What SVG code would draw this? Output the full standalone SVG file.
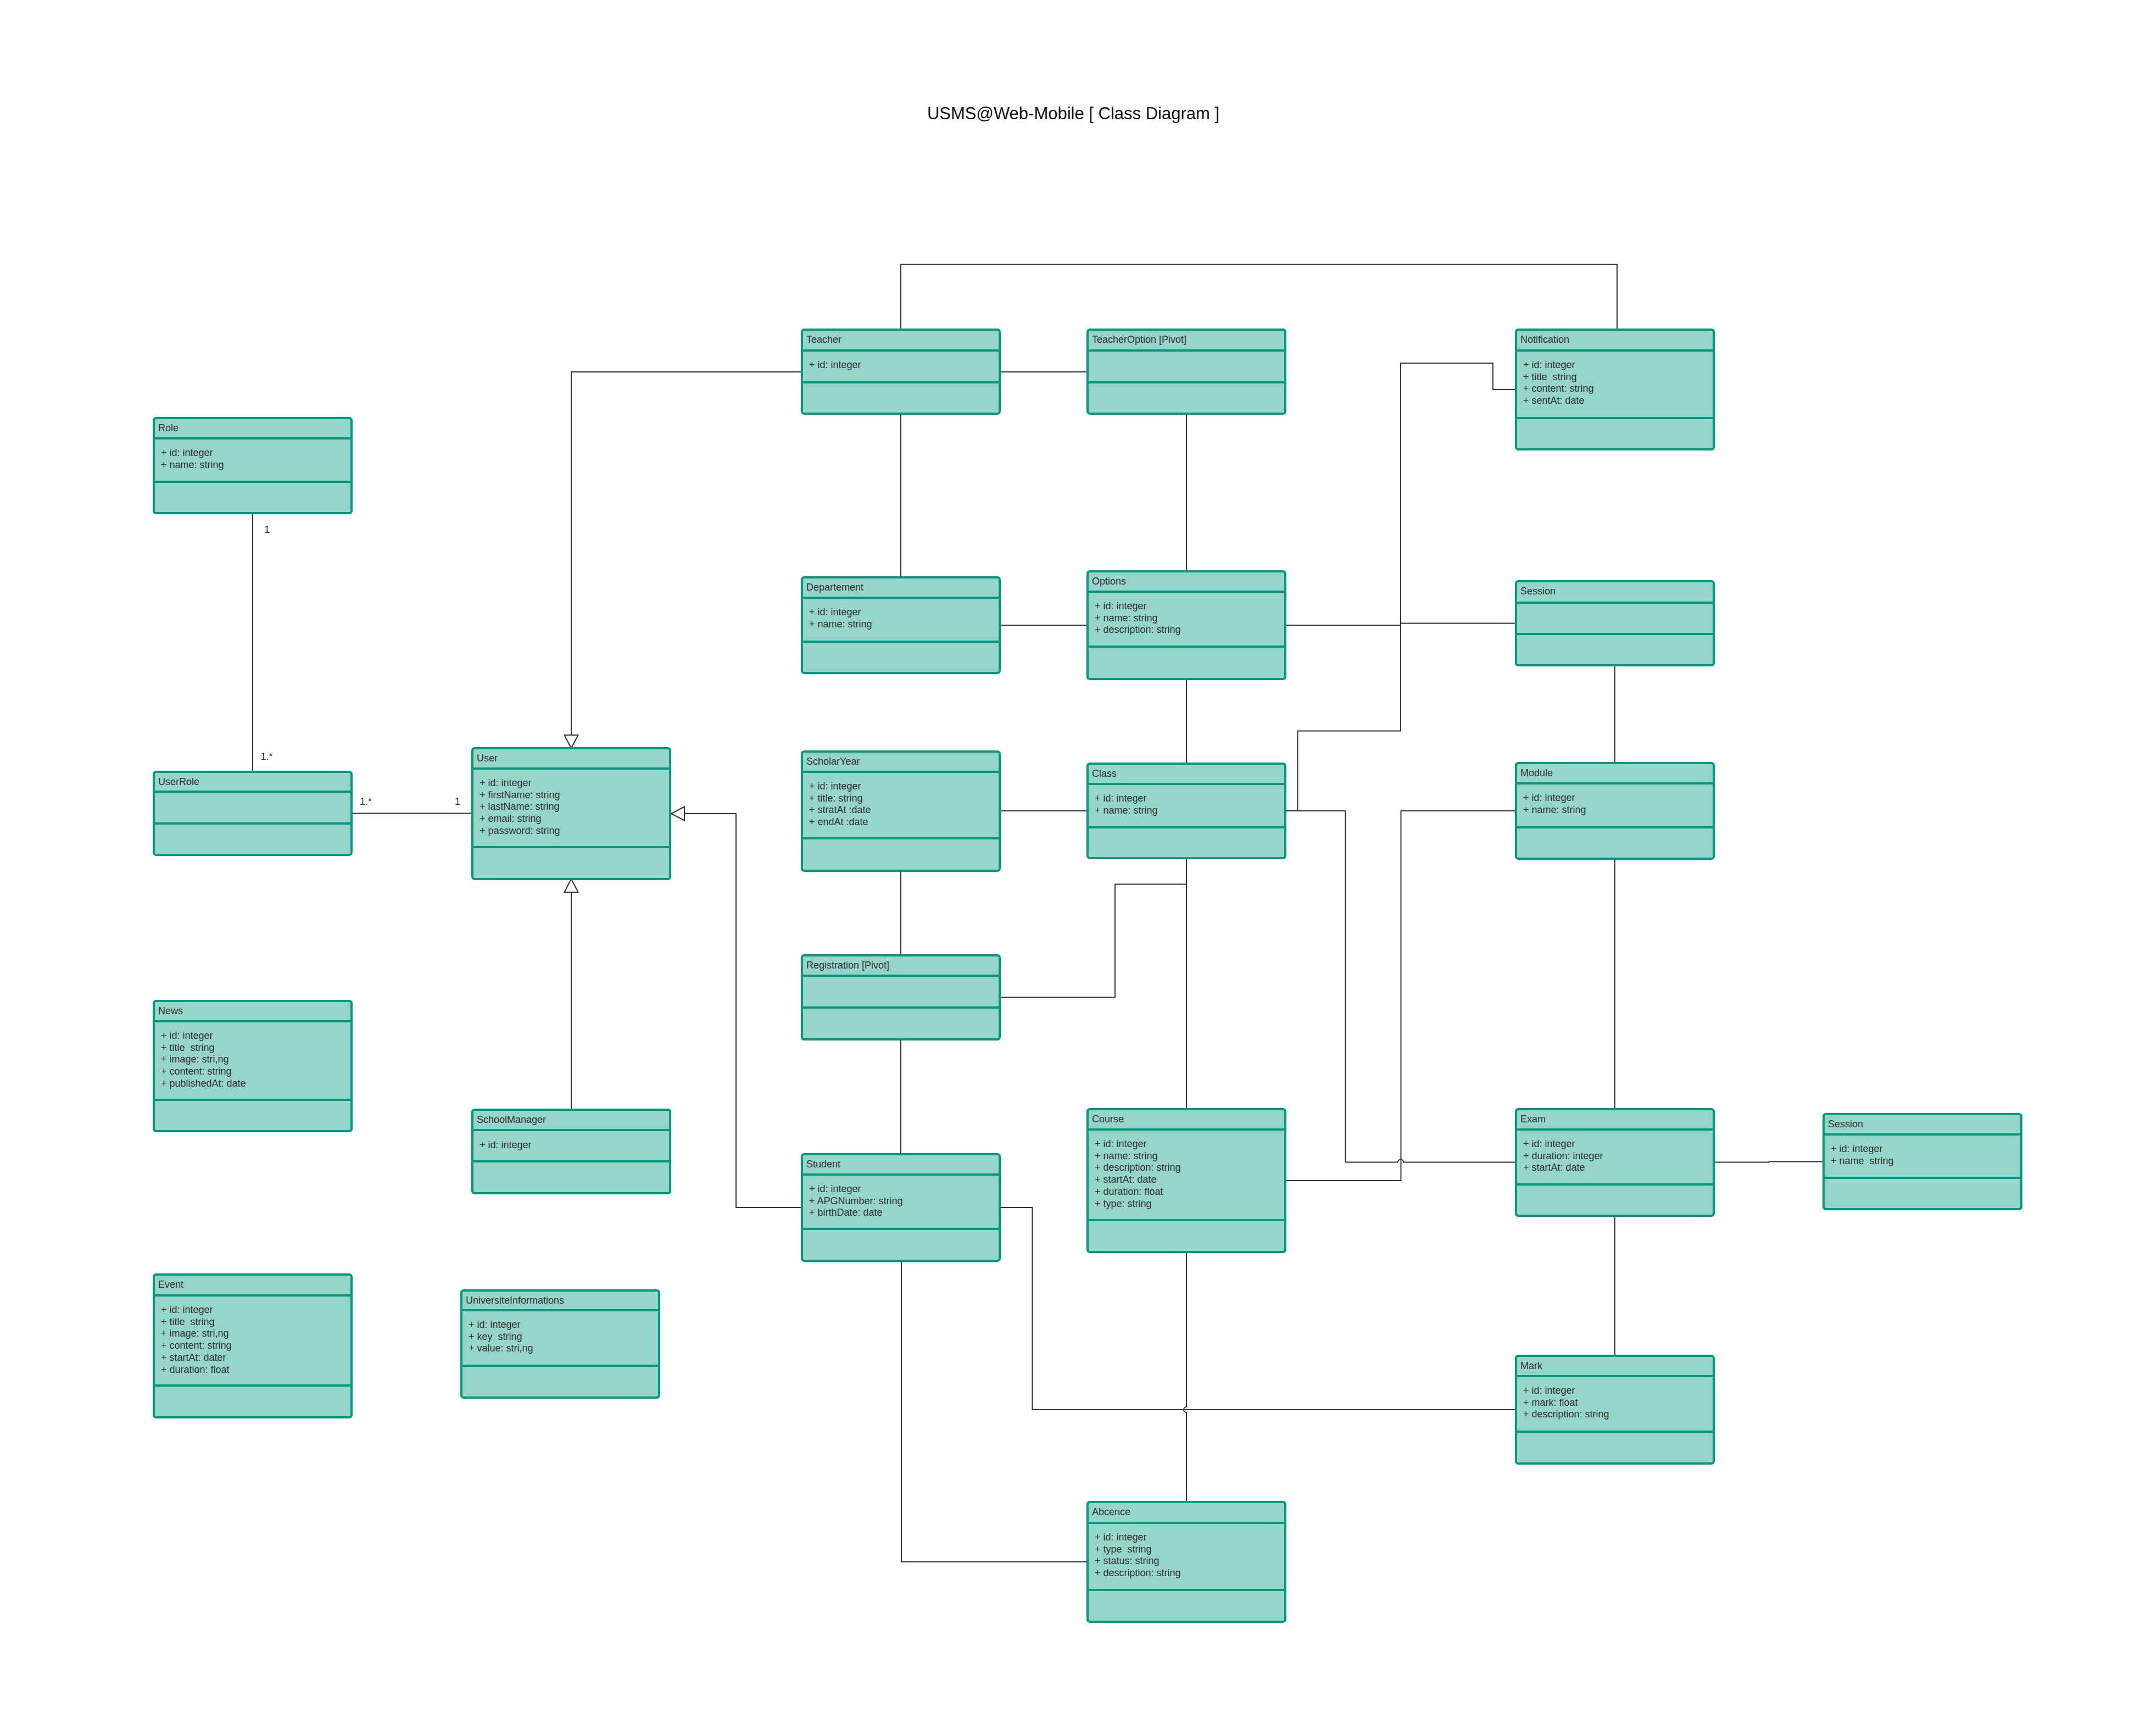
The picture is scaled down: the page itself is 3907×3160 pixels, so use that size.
<svg xmlns="http://www.w3.org/2000/svg" width="3907" height="3160" viewBox="0 0 3907 3160">
  <style>
    .box { fill: #96d5c9; stroke: #009b7f; stroke-width: 4; }
    .sep { stroke: #009b7f; stroke-width: 4; }
    .hdr, .attr, .mult { font-family: "Liberation Sans", Arial, sans-serif; font-size: 18px; fill: #333333; white-space: pre; }
    .title { font-family: "Liberation Sans", Arial, sans-serif; font-size: 31px; fill: #111111; }
    .wire { fill: none; stroke: #333333; stroke-width: 2; stroke-linejoin: round; }
  </style>
  <defs>
    <!-- hollow triangle for generalization -->
    <marker id="gen" markerUnits="userSpaceOnUse" markerWidth="28" markerHeight="30" refX="25" refY="13.5" orient="auto" overflow="visible">
      <path d="M1,1 L25,13.5 L1,26 Z" fill="#ffffff" stroke="#333333" stroke-width="2" stroke-linejoin="miter"/>
    </marker>
  </defs>

  <rect x="0" y="0" width="3907" height="3160" fill="#ffffff"/>

  <text class="title" x="1954" y="217" text-anchor="middle">USMS@Web-Mobile [ Class Diagram ]</text>

  <!-- connectors -->
  <g id="connectors">
    <path class="wire" d="M460 934 V1405"/>
    <path class="wire" d="M640 1480.5 H860"/>
    <path class="wire" d="M1460 677 H1040 V1362" marker-end="url(#gen)"/>
    <path class="wire" d="M1460 2198 H1340 V1481 H1222" marker-end="url(#gen)"/>
    <path class="wire" d="M1040 2020 V1600" marker-end="url(#gen)"/>
    <path class="wire" d="M1640 600 V481 H2944 V600"/>
    <path class="wire" d="M1820 677 H1980"/>
    <path class="wire" d="M1640 753 V1051"/>
    <path class="wire" d="M2160 753 V1040"/>
    <path class="wire" d="M1820 1138 H1980"/>
    <path class="wire" d="M2340 1138 H2550 V1134.5 H2760"/>
    <path class="wire" d="M2760 709 H2718 V661 H2550 V1330.5 H2362.5 V1475.5 H2340"/>
    <path class="wire" d="M2160 1236 V1390"/>
    <path class="wire" d="M2940 1211 V1389"/>
    <path class="wire" d="M1820 1476 H1980"/>
    <path class="wire" d="M2340 1476 H2449.5 V2115.5 H2545 A5 5 0 0 1 2555 2115.5 H2760"/>
    <path class="wire" d="M2340 2149 H2550.5 V1476 H2760"/>
    <path class="wire" d="M2160 1562 V2019"/>
    <path class="wire" d="M1820 1815.5 H2030 V1609.5 H2160"/>
    <path class="wire" d="M1640 1585 V1739"/>
    <path class="wire" d="M1640 1892 V2101"/>
    <path class="wire" d="M2940 1563 V2019"/>
    <path class="wire" d="M3120 2115.5 H3220.5 V2114.5 H3320"/>
    <path class="wire" d="M2940 2213 V2468"/>
    <path class="wire" d="M1820 2198 H1879.5 V2566 H2760"/>
    <path class="wire" d="M2160 2279 V2561 A5 5 0 0 0 2160 2571 V2734"/>
    <path class="wire" d="M1641 2295 V2843 H1980"/>
    <text class="mult" x="481" y="969.5">1</text>
    <text class="mult" x="474.5" y="1383">1.*</text>
    <text class="mult" x="655" y="1464.5">1.*</text>
    <text class="mult" x="828" y="1464.5">1</text>
  </g>

  <!-- classes -->
  <g id="role" transform="translate(280,761)">
    <rect class="box" width="360" height="173" rx="4"/>
    <line class="sep" x1="0" y1="37" x2="360" y2="37"/>
    <line class="sep" x1="0" y1="116" x2="360" y2="116"/>
    <text class="hdr" x="8" y="24">Role</text>
    <text class="attr" y="69"><tspan x="13">+ id: integer</tspan><tspan x="13" dy="21.7">+ name: string</tspan></text>
  </g>

  <g id="userrole" transform="translate(280,1405)">
    <rect class="box" width="360" height="151" rx="4"/>
    <line class="sep" x1="0" y1="36" x2="360" y2="36"/>
    <line class="sep" x1="0" y1="94" x2="360" y2="94"/>
    <text class="hdr" x="8" y="24">UserRole</text>
  </g>

  <g id="user" transform="translate(860,1362)">
    <rect class="box" width="360" height="238" rx="4"/>
    <line class="sep" x1="0" y1="37" x2="360" y2="37"/>
    <line class="sep" x1="0" y1="180" x2="360" y2="180"/>
    <text class="hdr" x="8" y="24">User</text>
    <text class="attr" y="69"><tspan x="13">+ id: integer</tspan><tspan x="13" dy="21.7">+ firstName: string</tspan><tspan x="13" dy="21.7">+ lastName: string</tspan><tspan x="13" dy="21.7">+ email: string</tspan><tspan x="13" dy="21.7">+ password: string</tspan></text>
  </g>

  <g id="news" transform="translate(280,1822)">
    <rect class="box" width="360" height="237" rx="4"/>
    <line class="sep" x1="0" y1="37" x2="360" y2="37"/>
    <line class="sep" x1="0" y1="180" x2="360" y2="180"/>
    <text class="hdr" x="8" y="24">News</text>
    <text class="attr" y="69"><tspan x="13">+ id: integer</tspan><tspan x="13" dy="21.7">+ title  string</tspan><tspan x="13" dy="21.7">+ image: stri,ng</tspan><tspan x="13" dy="21.7">+ content: string</tspan><tspan x="13" dy="21.7">+ publishedAt: date</tspan></text>
  </g>

  <g id="schoolmanager" transform="translate(860,2020)">
    <rect class="box" width="360" height="152" rx="4"/>
    <line class="sep" x1="0" y1="37" x2="360" y2="37"/>
    <line class="sep" x1="0" y1="94" x2="360" y2="94"/>
    <text class="hdr" x="8" y="24">SchoolManager</text>
    <text class="attr" y="70"><tspan x="13">+ id: integer</tspan></text>
  </g>

  <g id="event" transform="translate(280,2320)">
    <rect class="box" width="360" height="260" rx="4"/>
    <line class="sep" x1="0" y1="38" x2="360" y2="38"/>
    <line class="sep" x1="0" y1="202" x2="360" y2="202"/>
    <text class="hdr" x="8" y="24">Event</text>
    <text class="attr" y="70"><tspan x="13">+ id: integer</tspan><tspan x="13" dy="21.7">+ title  string</tspan><tspan x="13" dy="21.7">+ image: stri,ng</tspan><tspan x="13" dy="21.7">+ content: string</tspan><tspan x="13" dy="21.7">+ startAt: dater</tspan><tspan x="13" dy="21.7">+ duration: float</tspan></text>
  </g>

  <g id="universiteinformations" transform="translate(840,2349)">
    <rect class="box" width="360" height="195" rx="4"/>
    <line class="sep" x1="0" y1="36" x2="360" y2="36"/>
    <line class="sep" x1="0" y1="137" x2="360" y2="137"/>
    <text class="hdr" x="8" y="24">UniversiteInformations</text>
    <text class="attr" y="68"><tspan x="13">+ id: integer</tspan><tspan x="13" dy="21.7">+ key  string</tspan><tspan x="13" dy="21.7">+ value: stri,ng</tspan></text>
  </g>

  <g id="teacher" transform="translate(1460,600)">
    <rect class="box" width="360" height="153" rx="4"/>
    <line class="sep" x1="0" y1="38" x2="360" y2="38"/>
    <line class="sep" x1="0" y1="96" x2="360" y2="96"/>
    <text class="hdr" x="8" y="24">Teacher</text>
    <text class="attr" y="70"><tspan x="13">+ id: integer</tspan></text>
  </g>

  <g id="teacheroption" transform="translate(1980,600)">
    <rect class="box" width="360" height="153" rx="4"/>
    <line class="sep" x1="0" y1="38" x2="360" y2="38"/>
    <line class="sep" x1="0" y1="96" x2="360" y2="96"/>
    <text class="hdr" x="8" y="24">TeacherOption [Pivot]</text>
  </g>

  <g id="notification" transform="translate(2760,600)">
    <rect class="box" width="360" height="218" rx="4"/>
    <line class="sep" x1="0" y1="38" x2="360" y2="38"/>
    <line class="sep" x1="0" y1="161" x2="360" y2="161"/>
    <text class="hdr" x="8" y="24">Notification</text>
    <text class="attr" y="70"><tspan x="13">+ id: integer</tspan><tspan x="13" dy="21.7">+ title  string</tspan><tspan x="13" dy="21.7">+ content: string</tspan><tspan x="13" dy="21.7">+ sentAt: date</tspan></text>
  </g>

  <g id="departement" transform="translate(1460,1051)">
    <rect class="box" width="360" height="174" rx="4"/>
    <line class="sep" x1="0" y1="37" x2="360" y2="37"/>
    <line class="sep" x1="0" y1="117" x2="360" y2="117"/>
    <text class="hdr" x="8" y="24">Departement</text>
    <text class="attr" y="69"><tspan x="13">+ id: integer</tspan><tspan x="13" dy="21.7">+ name: string</tspan></text>
  </g>

  <g id="options" transform="translate(1980,1040)">
    <rect class="box" width="360" height="196" rx="4"/>
    <line class="sep" x1="0" y1="37" x2="360" y2="37"/>
    <line class="sep" x1="0" y1="137" x2="360" y2="137"/>
    <text class="hdr" x="8" y="24">Options</text>
    <text class="attr" y="69"><tspan x="13">+ id: integer</tspan><tspan x="13" dy="21.7">+ name: string</tspan><tspan x="13" dy="21.7">+ description: string</tspan></text>
  </g>

  <g id="session" transform="translate(2760,1058)">
    <rect class="box" width="360" height="153" rx="4"/>
    <line class="sep" x1="0" y1="39" x2="360" y2="39"/>
    <line class="sep" x1="0" y1="96" x2="360" y2="96"/>
    <text class="hdr" x="8" y="24">Session</text>
  </g>

  <g id="scholaryear" transform="translate(1460,1368)">
    <rect class="box" width="360" height="217" rx="4"/>
    <line class="sep" x1="0" y1="37" x2="360" y2="37"/>
    <line class="sep" x1="0" y1="158" x2="360" y2="158"/>
    <text class="hdr" x="8" y="24">ScholarYear</text>
    <text class="attr" y="69"><tspan x="13">+ id: integer</tspan><tspan x="13" dy="21.7">+ title: string</tspan><tspan x="13" dy="21.7">+ stratAt :date</tspan><tspan x="13" dy="21.7">+ endAt :date</tspan></text>
  </g>

  <g id="class" transform="translate(1980,1390)">
    <rect class="box" width="360" height="172" rx="4"/>
    <line class="sep" x1="0" y1="37" x2="360" y2="37"/>
    <line class="sep" x1="0" y1="116" x2="360" y2="116"/>
    <text class="hdr" x="8" y="24">Class</text>
    <text class="attr" y="69"><tspan x="13">+ id: integer</tspan><tspan x="13" dy="21.7">+ name: string</tspan></text>
  </g>

  <g id="module" transform="translate(2760,1389)">
    <rect class="box" width="360" height="174" rx="4"/>
    <line class="sep" x1="0" y1="37" x2="360" y2="37"/>
    <line class="sep" x1="0" y1="117" x2="360" y2="117"/>
    <text class="hdr" x="8" y="24">Module</text>
    <text class="attr" y="69"><tspan x="13">+ id: integer</tspan><tspan x="13" dy="21.7">+ name: string</tspan></text>
  </g>

  <g id="registration" transform="translate(1460,1739)">
    <rect class="box" width="360" height="153" rx="4"/>
    <line class="sep" x1="0" y1="37" x2="360" y2="37"/>
    <line class="sep" x1="0" y1="95" x2="360" y2="95"/>
    <text class="hdr" x="8" y="24">Registration [Pivot]</text>
  </g>

  <g id="student" transform="translate(1460,2101)">
    <rect class="box" width="360" height="194" rx="4"/>
    <line class="sep" x1="0" y1="37" x2="360" y2="37"/>
    <line class="sep" x1="0" y1="136" x2="360" y2="136"/>
    <text class="hdr" x="8" y="24">Student</text>
    <text class="attr" y="69"><tspan x="13">+ id: integer</tspan><tspan x="13" dy="21.7">+ APGNumber: string</tspan><tspan x="13" dy="21.7">+ birthDate: date</tspan></text>
  </g>

  <g id="course" transform="translate(1980,2019)">
    <rect class="box" width="360" height="260" rx="4"/>
    <line class="sep" x1="0" y1="37" x2="360" y2="37"/>
    <line class="sep" x1="0" y1="202" x2="360" y2="202"/>
    <text class="hdr" x="8" y="24">Course</text>
    <text class="attr" y="69"><tspan x="13">+ id: integer</tspan><tspan x="13" dy="21.7">+ name: string</tspan><tspan x="13" dy="21.7">+ description: string</tspan><tspan x="13" dy="21.7">+ startAt: date</tspan><tspan x="13" dy="21.7">+ duration: float</tspan><tspan x="13" dy="21.7">+ type: string</tspan></text>
  </g>

  <g id="exam" transform="translate(2760,2019)">
    <rect class="box" width="360" height="194" rx="4"/>
    <line class="sep" x1="0" y1="37" x2="360" y2="37"/>
    <line class="sep" x1="0" y1="137" x2="360" y2="137"/>
    <text class="hdr" x="8" y="24">Exam</text>
    <text class="attr" y="69"><tspan x="13">+ id: integer</tspan><tspan x="13" dy="21.7">+ duration: integer</tspan><tspan x="13" dy="21.7">+ startAt: date</tspan></text>
  </g>

  <g id="session-exam" transform="translate(3320,2028)">
    <rect class="box" width="360" height="173" rx="4"/>
    <line class="sep" x1="0" y1="37" x2="360" y2="37"/>
    <line class="sep" x1="0" y1="116" x2="360" y2="116"/>
    <text class="hdr" x="8" y="24">Session</text>
    <text class="attr" y="69"><tspan x="13">+ id: integer</tspan><tspan x="13" dy="21.7">+ name  string</tspan></text>
  </g>

  <g id="mark" transform="translate(2760,2468)">
    <rect class="box" width="360" height="196" rx="4"/>
    <line class="sep" x1="0" y1="37" x2="360" y2="37"/>
    <line class="sep" x1="0" y1="138" x2="360" y2="138"/>
    <text class="hdr" x="8" y="24">Mark</text>
    <text class="attr" y="69"><tspan x="13">+ id: integer</tspan><tspan x="13" dy="21.7">+ mark: float</tspan><tspan x="13" dy="21.7">+ description: string</tspan></text>
  </g>

  <g id="abcence" transform="translate(1980,2734)">
    <rect class="box" width="360" height="218" rx="4"/>
    <line class="sep" x1="0" y1="38" x2="360" y2="38"/>
    <line class="sep" x1="0" y1="160" x2="360" y2="160"/>
    <text class="hdr" x="8" y="24">Abcence</text>
    <text class="attr" y="70"><tspan x="13">+ id: integer</tspan><tspan x="13" dy="21.7">+ type  string</tspan><tspan x="13" dy="21.7">+ status: string</tspan><tspan x="13" dy="21.7">+ description: string</tspan></text>
  </g>
</svg>
